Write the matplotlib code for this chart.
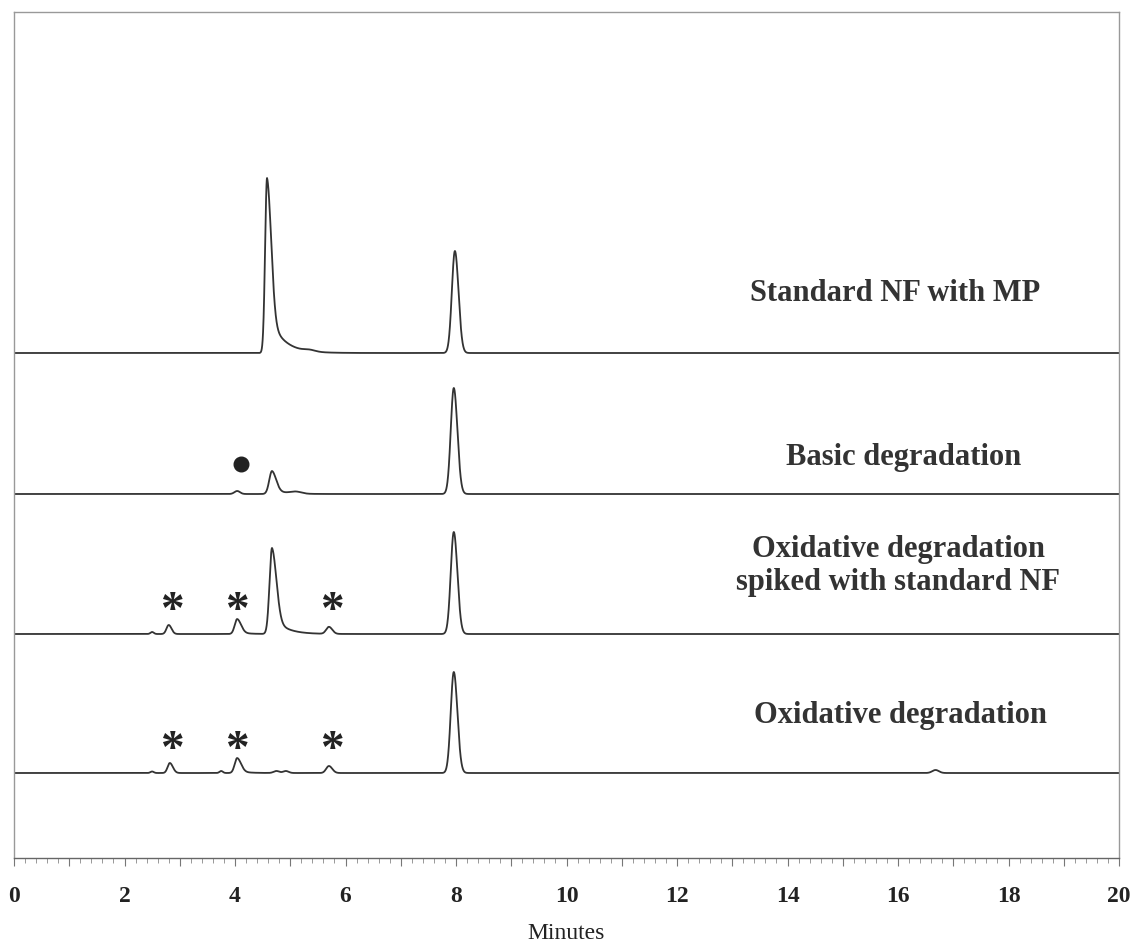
import numpy as np
import matplotlib
matplotlib.use("Agg")
import matplotlib.pyplot as plt
from matplotlib.ticker import MultipleLocator, FuncFormatter

# ---- data (time in minutes, heights in plot units) ----
# each peak: (retention time, height, sigma_left, sigma_right, tail_fraction, tail_tau)
peaks_standard = [(4.58, 175, 0.035, 0.075, 0.25, 0.25), (5.35, 1.5, 0.1, 0.1, 0, 1),
                  (7.98, 102, 0.055, 0.065, 0, 1)]
peaks_basic = [(4.04, 3, 0.05, 0.05, 0, 1), (4.67, 23, 0.05, 0.075, 0.2, 0.2),
               (5.10, 2, 0.1, 0.1, 0, 1), (7.96, 106, 0.055, 0.065, 0, 1)]
peaks_spiked = [(2.50, 2, 0.03, 0.03, 0, 1), (2.80, 9, 0.04, 0.05, 0, 1),
                (4.04, 15, 0.045, 0.07, 0.15, 0.15), (4.67, 86, 0.045, 0.08, 0.22, 0.22),
                (5.70, 7, 0.05, 0.06, 0, 1), (7.96, 102, 0.055, 0.065, 0, 1)]
peaks_oxid = [(2.50, 1.5, 0.03, 0.03, 0, 1), (2.82, 10, 0.04, 0.055, 0, 1),
              (3.75, 2, 0.03, 0.03, 0, 1), (4.04, 15, 0.045, 0.07, 0.15, 0.15),
              (4.75, 2, 0.05, 0.05, 0, 1), (4.92, 2, 0.05, 0.05, 0, 1),
              (5.70, 7, 0.05, 0.06, 0, 1), (7.96, 101, 0.055, 0.065, 0, 1),
              (16.68, 3, 0.06, 0.06, 0, 1)]
baselines = [505, 364, 224, 85]
trace_labels = ["Standard NF with MP", "Basic degradation",
                "Oxidative degradation\nspiked with standard NF", "Oxidative degradation"]
label_pos = [(15.95, 565), (16.1, 401), (16.0, 292), (16.05, 143)]
dot_marks = [(4.11, 394)]
star_marks = [(2.86, 255), (4.04, 255), (5.76, 255), (2.86, 116), (4.04, 116), (5.76, 116)]
xticks_labels = [str(v) for v in range(0, 21, 2)]

t = np.linspace(0, 20, 8001)


def trace(peaks):
    y = np.zeros_like(t)
    for rt, h, sl, sr, frac, tau in peaks:
        dt = t - rt
        left = np.exp(-0.5 * (dt / sl) ** 2)
        right = (1 - frac) * np.exp(-0.5 * (dt / sr) ** 2) + frac * np.exp(-np.clip(dt, 0, None) / tau)
        y += h * np.where(dt < 0, left, right)
    return y


fig = plt.figure(figsize=(11.36, 9.52), dpi=100)
ax = fig.add_axes([14 / 1136, 1 - 858 / 952, (1119 - 14) / 1136, (858 - 12) / 952])

for pk, base in zip([peaks_standard, peaks_basic, peaks_spiked, peaks_oxid], baselines):
    ax.plot(t, base + trace(pk), color="#333333", lw=1.3)

serif = ["Liberation Serif", "DejaVu Serif"]
for txt, (x, y) in zip(trace_labels, label_pos):
    ax.text(x, y, txt, ha="center", va="center", family=serif, fontweight="bold",
            fontsize=22, color="#333333", linespacing=1.2)

for x, y in dot_marks:
    ax.plot(x, y, "o", color="#222222", ms=10.5)
for x, y in star_marks:
    ax.text(x, y - 9, "*", ha="center", va="center", family=serif, fontweight="bold",
            fontsize=34, color="#222222")

ax.set_xlim(0, 20)
ax.set_ylim(0, 846)
ax.set_yticks([])
for sp in ax.spines.values():
    sp.set_color("#999999")
    sp.set_linewidth(1.0)
ax.spines["bottom"].set_color("#666666")

ax.xaxis.set_major_locator(MultipleLocator(1))
ax.xaxis.set_minor_locator(MultipleLocator(0.2))
ax.xaxis.set_major_formatter(FuncFormatter(
    lambda v, p: xticks_labels[int(round(v)) // 2] if int(round(v)) % 2 == 0 else ""))
ax.tick_params(axis="x", which="major", direction="out", length=6, width=0.8,
               color="#777777", pad=14, labelsize=17, labelcolor="#222222")
ax.tick_params(axis="x", which="minor", direction="out", length=3.5, width=0.6,
               color="#888888")
for lab in ax.get_xticklabels():
    lab.set_family(serif)
    lab.set_fontweight("bold")
ax.set_xlabel("Minutes", family=serif, fontsize=17, color="#222222", labelpad=12)

fig.savefig("out.png", dpi=100, facecolor="white")
